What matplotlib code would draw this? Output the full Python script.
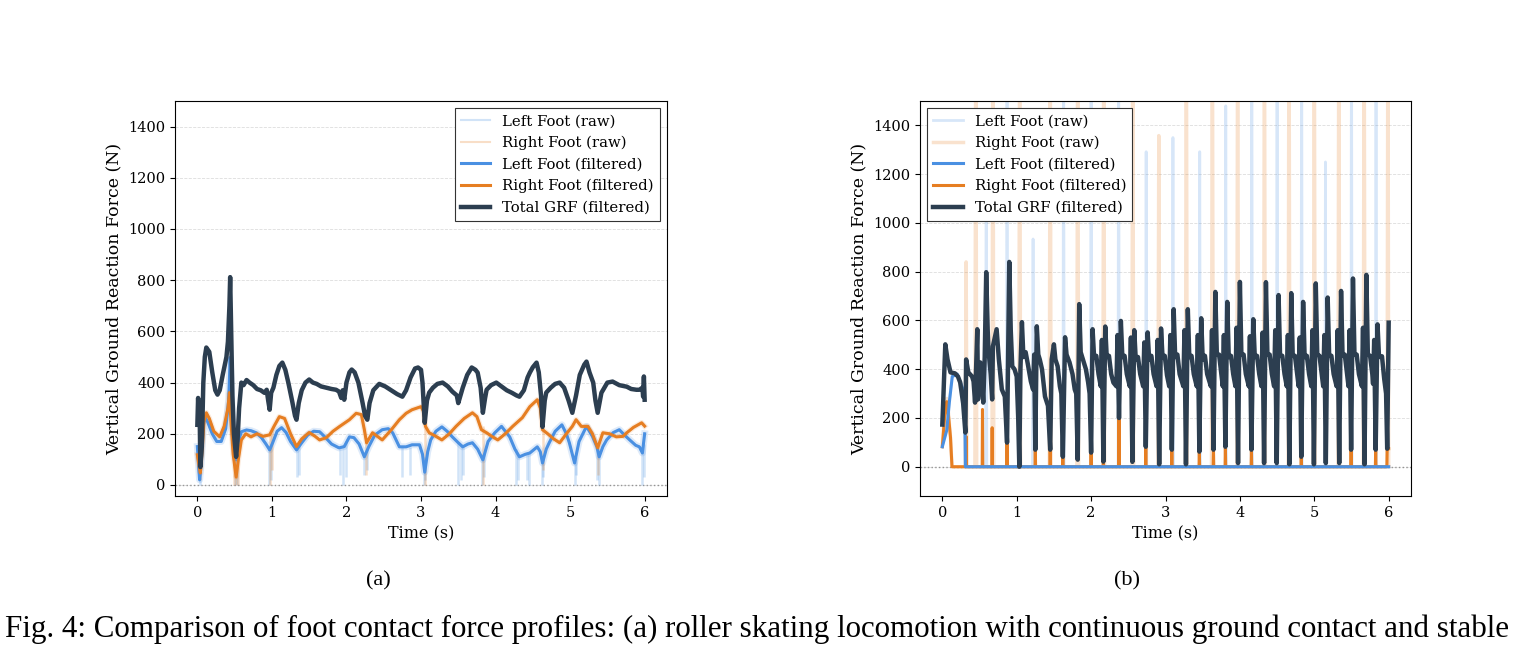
import numpy as np
import matplotlib
matplotlib.use("Agg")
import matplotlib.pyplot as plt

plt.rcParams['font.family'] = ['DejaVu Serif']

# ---------------- (a) roller skating ----------------
total_a = [(0.00,235),(0.01,340),(0.02,250),(0.03,300),(0.04,70),(0.06,150),(0.08,400),(0.10,500),(0.12,537),
 (0.16,520),(0.20,440),(0.24,370),(0.27,353),(0.30,370),(0.34,430),(0.39,500),(0.41,560),(0.43,700),(0.44,812),
 (0.45,650),(0.47,350),(0.49,200),(0.52,110),(0.54,180),(0.56,300),(0.59,400),(0.62,390),(0.66,410),(0.70,400),
 (0.75,390),(0.80,375),(0.85,370),(0.90,360),(0.93,372),(0.95,330),(0.97,294),(0.99,360),(1.02,380),(1.06,430),
 (1.10,465),(1.14,478),(1.18,450),(1.22,400),(1.27,330),(1.31,270),(1.33,255),(1.36,320),(1.40,370),(1.45,400),
 (1.50,412),(1.55,400),(1.60,395),(1.66,385),(1.73,380),(1.80,375),(1.86,372),(1.90,365),(1.93,340),(1.95,370),
 (1.97,333),(2.00,400),(2.04,440),(2.07,451),(2.11,440),(2.16,400),(2.21,330),(2.25,270),(2.28,255),(2.31,320),
 (2.36,370),(2.44,395),(2.52,385),(2.60,370),(2.68,355),(2.75,345),(2.80,370),(2.86,420),(2.92,455),(2.96,459),
 (3.00,450),(3.02,400),(3.05,243),(3.08,330),(3.11,361),(3.16,380),(3.22,395),(3.29,400),(3.36,385),(3.42,365),
 (3.48,350),(3.50,320),(3.52,340),(3.56,380),(3.62,430),(3.68,459),(3.73,450),(3.76,439),(3.80,380),(3.83,282),
 (3.86,340),(3.88,372),(3.94,390),(4.01,400),(4.08,385),(4.15,370),(4.22,360),(4.28,350),(4.32,345),(4.38,370),
 (4.43,420),(4.46,439),(4.50,460),(4.55,478),(4.58,440),(4.61,350),(4.63,227),(4.66,330),(4.68,361),(4.74,380),
 (4.80,395),(4.86,400),(4.92,380),(4.98,330),(5.03,282),(5.08,350),(5.13,430),(5.19,470),(5.22,482),(5.26,440),
 (5.31,400),(5.34,330),(5.37,282),(5.42,360),(5.50,400),(5.57,404),(5.66,390),(5.76,384),(5.82,375),(5.89,372),
 (5.93,372),(5.97,380),(5.98,345),(5.99,424),(6.00,333)]

left_a = [(0.00,150),(0.02,60),(0.03,20),(0.05,80),(0.08,230),(0.10,267),(0.14,245),(0.20,200),(0.26,170),
 (0.32,170),(0.38,220),(0.42,330),(0.44,498),(0.46,330),(0.49,160),(0.52,98),(0.55,170),(0.59,208),(0.66,215),
 (0.72,212),(0.79,204),(0.86,185),(0.92,160),(0.97,137),(1.01,165),(1.07,210),(1.13,224),(1.19,205),(1.25,170),
 (1.33,137),(1.40,165),(1.48,195),(1.56,210),(1.64,208),(1.72,185),(1.80,160),(1.90,145),(1.97,150),(2.04,188),
 (2.10,185),(2.17,160),(2.24,110),(2.30,150),(2.38,195),(2.48,216),(2.56,220),(2.62,204),(2.71,149),(2.80,149),
 (2.88,157),(2.98,157),(3.02,120),(3.05,50),(3.09,130),(3.13,176),(3.20,210),(3.28,227),(3.35,210),(3.42,188),
 (3.50,165),(3.56,149),(3.63,160),(3.69,165),(3.76,140),(3.83,98),(3.90,170),(3.99,204),(4.08,229),(4.19,188),
 (4.26,140),(4.32,110),(4.40,120),(4.46,125),(4.56,149),(4.60,130),(4.63,86),(4.68,140),(4.72,165),(4.80,210),
 (4.89,235),(4.95,200),(4.99,165),(5.06,86),(5.12,170),(5.22,229),(5.30,190),(5.36,149),(5.39,110),(5.44,150),
 (5.49,176),(5.58,205),(5.66,216),(5.73,195),(5.80,176),(5.88,155),(5.93,149),(5.97,125),(6.00,200)]

right_a = [(0.00,118),(0.02,80),(0.04,47),(0.06,120),(0.09,250),(0.12,282),(0.16,260),(0.22,210),(0.30,188),
 (0.36,230),(0.41,300),(0.43,361),(0.45,250),(0.48,120),(0.52,31),(0.55,100),(0.59,176),(0.65,200),(0.72,188),
 (0.80,200),(0.88,190),(0.97,196),(1.03,230),(1.10,267),(1.17,260),(1.25,200),(1.33,150),(1.40,180),(1.50,205),
 (1.58,190),(1.64,176),(1.73,185),(1.82,210),(1.91,229),(2.04,255),(2.13,280),(2.20,275),(2.24,216),(2.27,165),
 (2.35,204),(2.48,176),(2.60,215),(2.71,255),(2.80,280),(2.88,294),(3.00,306),(3.03,290),(3.06,229),(3.11,204),
 (3.20,190),(3.28,176),(3.38,200),(3.47,229),(3.58,260),(3.69,282),(3.75,267),(3.81,216),(3.88,204),(3.95,190),
 (4.03,176),(4.13,200),(4.23,229),(4.36,263),(4.46,306),(4.56,333),(4.60,300),(4.63,216),(4.70,200),(4.78,180),
 (4.86,165),(4.95,200),(5.03,229),(5.08,255),(5.15,229),(5.24,229),(5.30,200),(5.37,145),(5.44,204),(5.53,200),
 (5.62,188),(5.71,190),(5.76,204),(5.85,225),(5.96,243),(6.00,230)]

# raw-signal drop-outs (a): time, low, high
left_dip_t  = [0.03,0.50,0.53,0.96,0.99,1.33,1.37,1.92,1.96,2.00,2.24,2.27,2.75,2.85,3.04,3.06,3.50,3.53,3.56,
               3.82,3.85,4.27,4.30,4.42,4.45,4.62,4.64,5.06,5.08,5.36,5.39,5.96,5.99]
left_dip_lo = [0,0,0,0,20,30,40,40,0,30,40,60,30,40,0,20,0,20,40,0,30,0,20,20,0,0,30,0,40,20,0,0,30]
left_dip_hi = [60,130,120,150,160,140,160,150,150,170,120,140,150,150,110,80,165,160,150,120,120,140,115,125,
               125,100,100,100,110,150,120,140,160]
right_dip_t  = [0.04,0.49,0.52,0.55,0.97,1.00,2.26,3.05,3.83,4.63,5.37]
right_dip_lo = [20,0,0,0,0,60,40,0,0,60,40]
right_dip_hi = [60,150,60,120,200,220,180,240,230,230,160]

# ---------------- (b) walking / stepping ----------------
total_b = [(0.00,173),(0.01,250),(0.04,502),(0.07,440),(0.11,387),(0.17,383),(0.21,370),(0.24,346),(0.28,260),
 (0.31,140),(0.32,440),(0.35,387),(0.40,370),(0.42,350),(0.44,263),(0.47,564),(0.48,276),(0.51,428),(0.53,380),
 (0.55,263),(0.57,450),(0.59,798),(0.61,560),(0.62,481),(0.65,380),(0.67,276),(0.68,494),(0.73,564),(0.76,440),
 (0.80,317),(0.84,288),(0.87,99),(0.90,840),(0.92,560),(0.94,412),(0.97,400),(1.00,370),(1.02,200),(1.035,0),
 (1.05,400),(1.07,593),
 (1.09,450),(1.12,470),(1.15,420),(1.19,350),(1.22,317),(1.235,460),(1.25,70),(1.27,576),
 (1.29,460),(1.31,440),(1.34,400),(1.38,288),(1.42,250),(1.45,70),(1.47,440),(1.50,502),
 (1.52,440),(1.55,412),(1.58,330),(1.60,300),(1.62,41),(1.65,531),
 (1.67,460),(1.71,428),(1.75,380),(1.78,317),(1.80,300),(1.82,29),(1.84,667),
 (1.86,470),(1.89,440),(1.93,400),(1.96,346),(1.98,300),(2.00,58),(2.02,564),
 (2.04,450),(2.07,455),(2.10,380),(2.13,330),(2.145,520),(2.165,21),(2.19,575),
 (2.21,450),(2.24,455),(2.27,380),(2.30,345),(2.34,330),(2.355,540),(2.375,200),(2.40,598),
 (2.42,450),(2.45,455),(2.48,380),(2.52,330),(2.535,530),(2.555,20),(2.58,560),
 (2.60,440),(2.63,450),(2.66,380),(2.70,330),(2.715,510),(2.735,82),(2.76,551),
 (2.78,440),(2.81,455),(2.84,380),(2.88,330),(2.895,520),(2.915,10),(2.94,567),
 (2.96,450),(2.99,455),(3.02,375),(3.05,330),(3.065,540),(3.085,70),(3.11,646),
 (3.13,450),(3.16,460),(3.19,380),(3.24,330),(3.255,560),(3.275,10),(3.30,646),
 (3.32,450),(3.35,455),(3.38,380),(3.42,330),(3.435,540),(3.455,62),(3.48,609),
 (3.50,440),(3.53,455),(3.56,380),(3.61,330),(3.625,560),(3.645,70),(3.67,717),
 (3.69,460),(3.72,460),(3.75,380),(3.77,330),(3.785,540),(3.805,82),(3.83,676),
 (3.85,450),(3.88,455),(3.91,380),(3.94,330),(3.955,570),(3.975,15),(4.00,758),
 (4.02,460),(4.05,460),(4.08,380),(4.12,330),(4.135,535),(4.155,70),(4.18,605),
 (4.20,450),(4.23,455),(4.26,380),(4.29,330),(4.305,550),(4.325,15),(4.35,757),
 (4.37,460),(4.40,460),(4.43,380),(4.46,330),(4.475,560),(4.495,15),(4.52,704),
 (4.54,455),(4.57,455),(4.60,380),(4.63,330),(4.645,540),(4.665,10),(4.69,712),
 (4.71,455),(4.74,455),(4.77,380),(4.79,330),(4.805,530),(4.825,41),(4.85,676),
 (4.87,450),(4.90,455),(4.93,380),(4.96,330),(4.975,560),(4.995,10),(5.02,752),
 (5.04,460),(5.07,455),(5.10,380),(5.12,330),(5.135,540),(5.155,15),(5.18,694),
 (5.20,455),(5.23,455),(5.26,380),(5.30,330),(5.315,560),(5.335,15),(5.36,721),
 (5.38,455),(5.41,460),(5.44,380),(5.46,330),(5.475,560),(5.495,70),(5.52,772),
 (5.54,460),(5.57,460),(5.60,380),(5.64,330),(5.655,570),(5.675,10),(5.70,787),
 (5.72,460),(5.75,455),(5.78,380),(5.79,340),(5.805,520),(5.825,70),(5.85,584),
 (5.87,450),(5.91,453),(5.94,360),(5.965,300),(5.98,74),(6.00,591)]

left_b = [(0.00,82),(0.06,150),(0.094,263),(0.134,370),(0.20,380),(0.30,300),(0.31,0),(6.00,0)]

right_b = [(0.00,82),(0.03,200),(0.06,267),(0.08,220),(0.11,120),(0.13,0),
 (0.316,0),(0.32,124),(0.324,0),(0.536,0),(0.54,235),(0.544,0),(0.666,0),(0.67,160),(0.674,0),
 (0.866,0),(0.87,99),(0.874,0),(1.246,0),(1.25,70),(1.254,0),(1.446,0),(1.45,70),(1.454,0),
 (1.616,0),(1.62,120),(1.624,0),(1.996,0),(2.00,78),(2.004,0),(2.161,0),(2.165,21),(2.169,0),
 (2.371,0),(2.375,206),(2.379,0),(2.731,0),(2.735,82),(2.739,0),(3.081,0),(3.085,70),(3.089,0),
 (3.451,0),(3.455,62),(3.459,0),(3.641,0),(3.645,70),(3.649,0),(3.801,0),(3.805,82),(3.809,0),
 (4.151,0),(4.155,70),(4.159,0),(4.821,0),(4.825,41),(4.829,0),(5.491,0),(5.495,70),(5.499,0),
 (5.821,0),(5.825,70),(5.829,0),(5.976,0),(5.98,74),(6.00,74)]

# raw impact spikes (b)
left_spike_t = [0.59,0.87,1.22,1.63,2.00,2.37,2.74,3.10,3.46,3.81,4.16,4.50,4.83,5.15,5.50,5.83]
left_spike_v = [1400,2000,934,2000,2000,2000,1292,1350,1292,1480,2000,2000,2000,1250,2000,2000]
right_spike_t = [0.32,0.45,0.68,1.04,1.45,1.82,2.17,2.56,2.91,3.28,3.63,3.97,4.33,4.66,5.00,5.33,5.67,5.99]
right_spike_v = [840,2000,2000,2000,2000,2000,2000,2000,1358,2000,2000,2000,2000,2000,2000,2000,2000,2000]
left_raw_start_b = [(0.00,90),(0.06,160),(0.094,270),(0.134,380),(0.20,380),(0.30,300),(0.31,0)]
right_raw_start_b = [(0.00,90),(0.03,210),(0.06,280),(0.08,230),(0.11,120),(0.13,0)]

C_L = '#4A90E2'
C_R = '#E67E22'
C_T = '#2C3E50'

W, H = 1514, 647
fig = plt.figure(figsize=(W/100, H/100), dpi=100)
ax_a = fig.add_axes([175/W, 1-496/H, 492/W, 395/H])
ax_b = fig.add_axes([920/W, 1-496/H, 491/W, 395/H])


def xy(pts):
    a = np.array(pts, dtype=float)
    return a[:, 0], a[:, 1]


def spikes(pts, ts, vs, half):
    out = list(pts)
    for t, v in zip(ts, vs):
        out += [(t - half, 0), (t, v), (t + half, 0)]
    out.append((6.0, 0))
    out = sorted(out, key=lambda p: p[0])
    return xy(out)


# ---- panel a ----
ax = ax_a
t, v = xy(left_a)
ax.plot(t, v, color=C_L, alpha=0.25, lw=1.5, label='Left Foot (raw)', zorder=2)
ax.plot(t, v, color=C_L, alpha=0.18, lw=5.0, zorder=2)
ax.vlines(left_dip_t, left_dip_lo, left_dip_hi, color=C_L, alpha=0.25, lw=1.8, zorder=2)
t, v = xy(right_a)
ax.plot(t, v, color=C_R, alpha=0.25, lw=1.5, label='Right Foot (raw)', zorder=2)
ax.plot(t, v, color=C_R, alpha=0.15, lw=4.0, zorder=2)
ax.vlines(right_dip_t, right_dip_lo, right_dip_hi, color=C_R, alpha=0.25, lw=1.8, zorder=2)
t, v = xy(left_a)
ax.plot(t, v, color=C_L, lw=2.2, label='Left Foot (filtered)', zorder=3)
t, v = xy(right_a)
ax.plot(t, v, color=C_R, lw=2.2, label='Right Foot (filtered)', zorder=4)
t, v = xy(total_a)
ax.plot(t, v, color=C_T, lw=3.2, label='Total GRF (filtered)', zorder=5)
ax.set_ylim(-43, 1500)

# ---- panel b ----
ax = ax_b
t, v = spikes(left_raw_start_b, left_spike_t, left_spike_v, 0.008)
ax.plot(t, v, color=C_L, alpha=0.22, lw=2.0, label='Left Foot (raw)', zorder=2)
t, v = spikes(right_raw_start_b, right_spike_t, right_spike_v, 0.012)
ax.plot(t, v, color=C_R, alpha=0.22, lw=2.5, label='Right Foot (raw)', zorder=2)
t, v = xy(left_b)
ax.plot(t, v, color=C_L, lw=2.2, label='Left Foot (filtered)', zorder=4)
t, v = xy(right_b)
ax.plot(t, v, color=C_R, lw=2.2, label='Right Foot (filtered)', zorder=3)
t, v = xy(total_b)
ax.plot(t, v, color=C_T, lw=3.2, label='Total GRF (filtered)', zorder=5)
ax.set_ylim(-120, 1500)

for ax, loc in ((ax_a, 'upper right'), (ax_b, 'upper left')):
    ax.axhline(0, color='gray', ls=':', lw=1.0, alpha=0.8, zorder=1.5)
    ax.set_xlim(-0.3, 6.3)
    ax.set_xticks(range(7))
    ax.set_yticks(range(0, 1401, 200))
    ax.grid(axis='y', ls='--', lw=0.6, color='#dddddd', zorder=0)
    ax.set_axisbelow(True)
    ax.tick_params(labelsize=10.5, direction='out')
    ax.set_xlabel('Time (s)', fontsize=11.5)
    ax.set_ylabel('Vertical Ground Reaction Force (N)', fontsize=12.5)
    leg = ax.legend(loc=loc, fontsize=10.7, fancybox=False, framealpha=1.0, edgecolor='#333333')
    leg.get_frame().set_linewidth(0.8)
    leg.set_zorder(10)

fig.text(378/W, 1-581/H, '(a)', ha='center', va='center', fontsize=16, family='Liberation Serif')
fig.text(1127/W, 1-581/H, '(b)', ha='center', va='center', fontsize=16, family='Liberation Serif')
fig.text(5/W, 1-637/H,
         'Fig. 4: Comparison of foot contact force profiles: (a) roller skating locomotion with continuous ground contact and stable',
         ha='left', va='baseline', fontsize=22.3, family='Liberation Serif')

fig.savefig('out.png', dpi=100)
